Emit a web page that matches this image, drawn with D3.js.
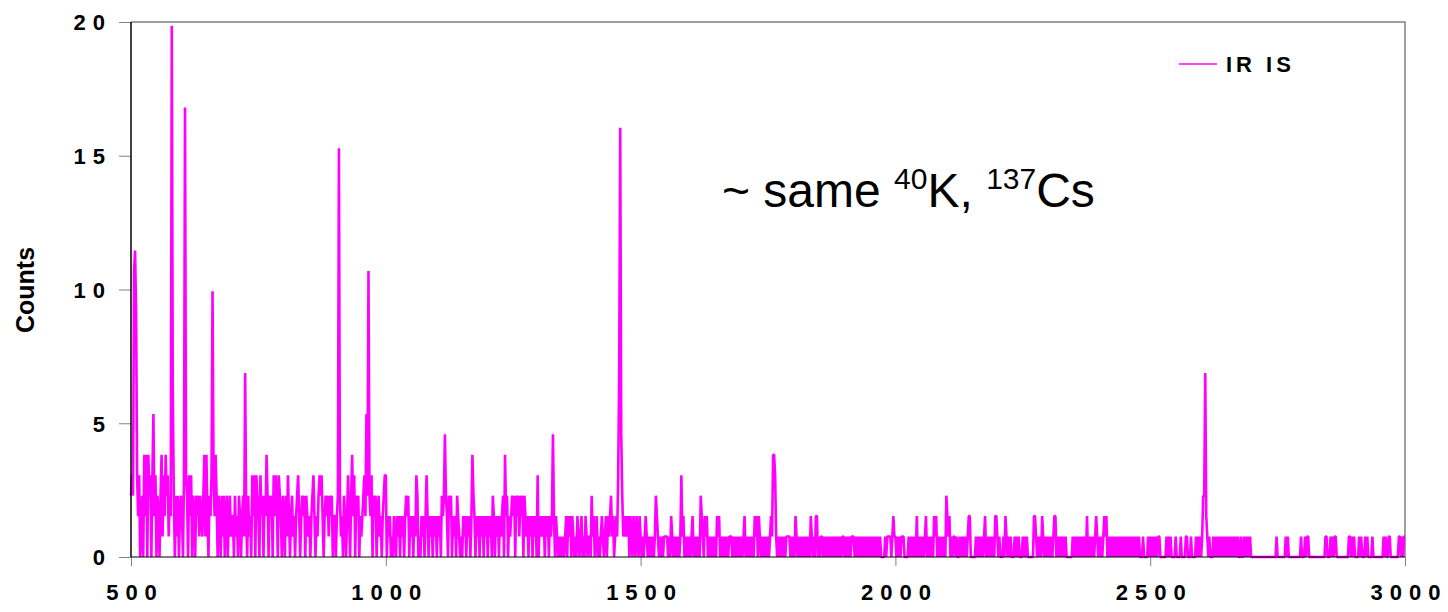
<!DOCTYPE html>
<html>
<head>
<meta charset="utf-8">
<script src="https://cdn.jsdelivr.net/npm/d3@7"></script>
<style>
    body { margin: 0; background: #fff; }
    #chart-area { width: 1448px; height: 612px; }
    text { font-family: Arial, "Liberation Sans", sans-serif; }
    .tick-label { font-size: 22px; font-weight: bold; fill: #000; }
</style>
</head>
<body>
<div id="chart-area"></div>
<script>

// ---- data ----
// spectrum, 2 keV per channel, counts written in base 36 (one char per channel),
// one string per 100 keV block, grouped by 10 channels
let blockStarts = [500, 600, 700, 800, 900, 1000, 1100, 1200, 1300, 1400, 1500, 1600, 1700,
    1800, 1900, 2000, 2100, 2200, 2300, 2400, 2500, 2600, 2700, 2800, 2900];
let blockCounts = [
    "343efc4240 1305250534 0472403203 5142534132 q830313023",
    "204m430424 0320323132 1351520324 d425303203 1302302312",
    "2031203202 3192031204 2404320423 0325303230 4243043203",
    "2031420231 2023420232 3032120234 2021343420 2323132302",
    "2023k31203 2024203524 0323021234 273e324032 3023120234",
    "4021201021 0212021202 3230212021 4301021202 4202120212",
    "0212032363 2032302120 3210102120 2120253202 1202120212",
    "0212032021 2021230523 0212323032 3132303212 0212021204",
    "0212120212 0212620210 1010101202 1202101021 0120102101",
    "1031201201 0121012021 2312012149 l631212120 2102102102",
    "1010121010 1010132101 0101111010 2101010101 4120101010",
    "1201010103 2102120101 0101021201 0101010111 0101010101",
    "0120101010 1021202101 0101010121 5541010101 0101111010",
    "1021010101 0101010210 1022010110 1010101010 1010101011",
    "0101010111 0101010101 0101010101 0101010000 1011110121",
    "1010101110 0001010101 0201010101 2010101021 2010101010",
    "3212010110 1001010101 0122000001 0101010120 1010101022",
    "1010001021 0101000101 0100010101 0000002210 1010210101",
    "0101012201 0101010100 0000101010 1010101020 1010101210",
    "1010121201 0101010101 0101010101 0101010101 0001000010",
    "1010101011 0000001010 1000010000 1000011000 1000010101",
    "0133921010 0010101010 1010101010 1010101001 0010101010",
    "0000000000 0000000000 0000100000 0001010000 0000000010",
    "0010110000 0000000000 0011000101 0110000000 0000011010",
    "1000010100 0101000010 0000000001 0100110000 0000110101 1"
];
let channelWidth = 2;       // keV
let countUnit = 0.764;      // chart units per raw count

let xTicks = [500, 1000, 1500, 2000, 2500, 3000];
let yTicks = [0, 5, 10, 15, 20];
let seriesName = "IR IS";
let yTitle = "Counts";


class SpectrumChart {

    constructor(parentElement) {
        this.parentElement = parentElement;
        this.lineColor = "#ff00ff";
        this.initVis();
    }

    initVis() {
        let vis = this;

        vis.margin = {top: 22, right: 43, bottom: 55, left: 131};
        vis.width = 1448 - vis.margin.left - vis.margin.right;
        vis.height = 612 - vis.margin.top - vis.margin.bottom;

        vis.root = d3.select("#" + vis.parentElement).append("svg")
            .attr("width", 1448)
            .attr("height", 612);

        vis.svg = vis.root.append("g")
            .attr("transform", "translate(" + vis.margin.left + "," + vis.margin.top + ")");

        vis.x = d3.scaleLinear().domain([500, 3000]).range([0, vis.width]);
        vis.y = d3.scaleLinear().domain([0, 20]).range([vis.height, 0]);

        vis.line = d3.line()
            .x(d => vis.x(d.energy))
            .y(d => vis.y(d.value));

        this.wrangleData();
    }

    wrangleData() {
        let vis = this;

        vis.displayData = [];
        blockCounts.forEach((str, b) => {
            let chars = str.replace(/ /g, "");
            for (let i = 0; i < chars.length; i++) {
                vis.displayData.push({
                    energy: blockStarts[b] + i * channelWidth,
                    value: parseInt(chars[i], 36) * countUnit
                });
            }
        });

        vis.updateVis();
    }

    updateVis() {
        let vis = this;

        // plot border (top, right) in grey
        vis.svg.append("path")
            .attr("d", "M0,0H" + vis.width + "V" + vis.height)
            .attr("fill", "none")
            .attr("stroke", "#808080")
            .attr("stroke-width", 1.5);

        // spectrum
        vis.svg.append("path")
            .datum(vis.displayData)
            .attr("fill", "none")
            .attr("stroke", vis.lineColor)
            .attr("stroke-width", 2.6)
            .attr("stroke-linejoin", "bevel")
            .attr("d", vis.line);

        // y axis
        let yAxis = d3.axisLeft(vis.y)
            .tickValues(yTicks)
            .tickSize(12)
            .tickPadding(14);
        let yg = vis.svg.append("g").call(yAxis);
        yg.select(".domain").remove();
        yg.selectAll(".tick line").attr("stroke", "#808080");
        yg.selectAll(".tick text")
            .attr("class", "tick-label")
            .style("letter-spacing", "7px")
            .attr("dy", "0.36em")
            .attr("dx", "7px");

        vis.svg.append("line")
            .attr("x1", 0).attr("x2", 0)
            .attr("y1", 0).attr("y2", vis.height)
            .attr("stroke", "#000")
            .attr("stroke-width", 1.5);

        // x axis
        let xAxis = d3.axisBottom(vis.x)
            .tickValues(xTicks)
            .tickFormat(d3.format("d"))
            .tickSize(9)
            .tickPadding(18);
        let xg = vis.svg.append("g")
            .attr("transform", "translate(0," + vis.height + ")")
            .call(xAxis);
        xg.select(".domain").remove();
        xg.selectAll(".tick line").attr("stroke", "#808080");
        xg.selectAll(".tick text")
            .attr("class", "tick-label")
            .style("letter-spacing", "7px")
            .attr("dx", "3.5px");

        vis.svg.append("line")
            .attr("x1", 0).attr("x2", vis.width)
            .attr("y1", vis.height).attr("y2", vis.height)
            .attr("stroke", "#000")
            .attr("stroke-width", 1);

        // y title
        vis.root.append("text")
            .attr("transform", "translate(34,290) rotate(-90)")
            .attr("text-anchor", "middle")
            .style("font-size", "25px")
            .style("font-weight", "bold")
            .text(yTitle);

        // legend
        let legend = vis.root.append("g").attr("transform", "translate(1179,64)");
        legend.append("line")
            .attr("x1", 0).attr("x2", 38)
            .attr("stroke", vis.lineColor)
            .attr("stroke-width", 1.5);
        legend.append("text")
            .attr("x", 47).attr("y", 8)
            .style("font-size", "22px")
            .style("font-weight", "bold")
            .style("letter-spacing", "4px")
            .text(seriesName);

        // annotation
        let note = vis.root.append("text")
            .attr("x", 722).attr("y", 207)
            .style("font-size", "48px");
        note.append("tspan").text("~ same ");
        note.append("tspan").attr("dy", -18).style("font-size", "30px").text("40");
        note.append("tspan").attr("dy", 18).text("K, ");
        note.append("tspan").attr("dy", -18).style("font-size", "30px").text("137");
        note.append("tspan").attr("dy", 18).text("Cs");
    }
}

new SpectrumChart("chart-area");

</script>
</body>
</html>
